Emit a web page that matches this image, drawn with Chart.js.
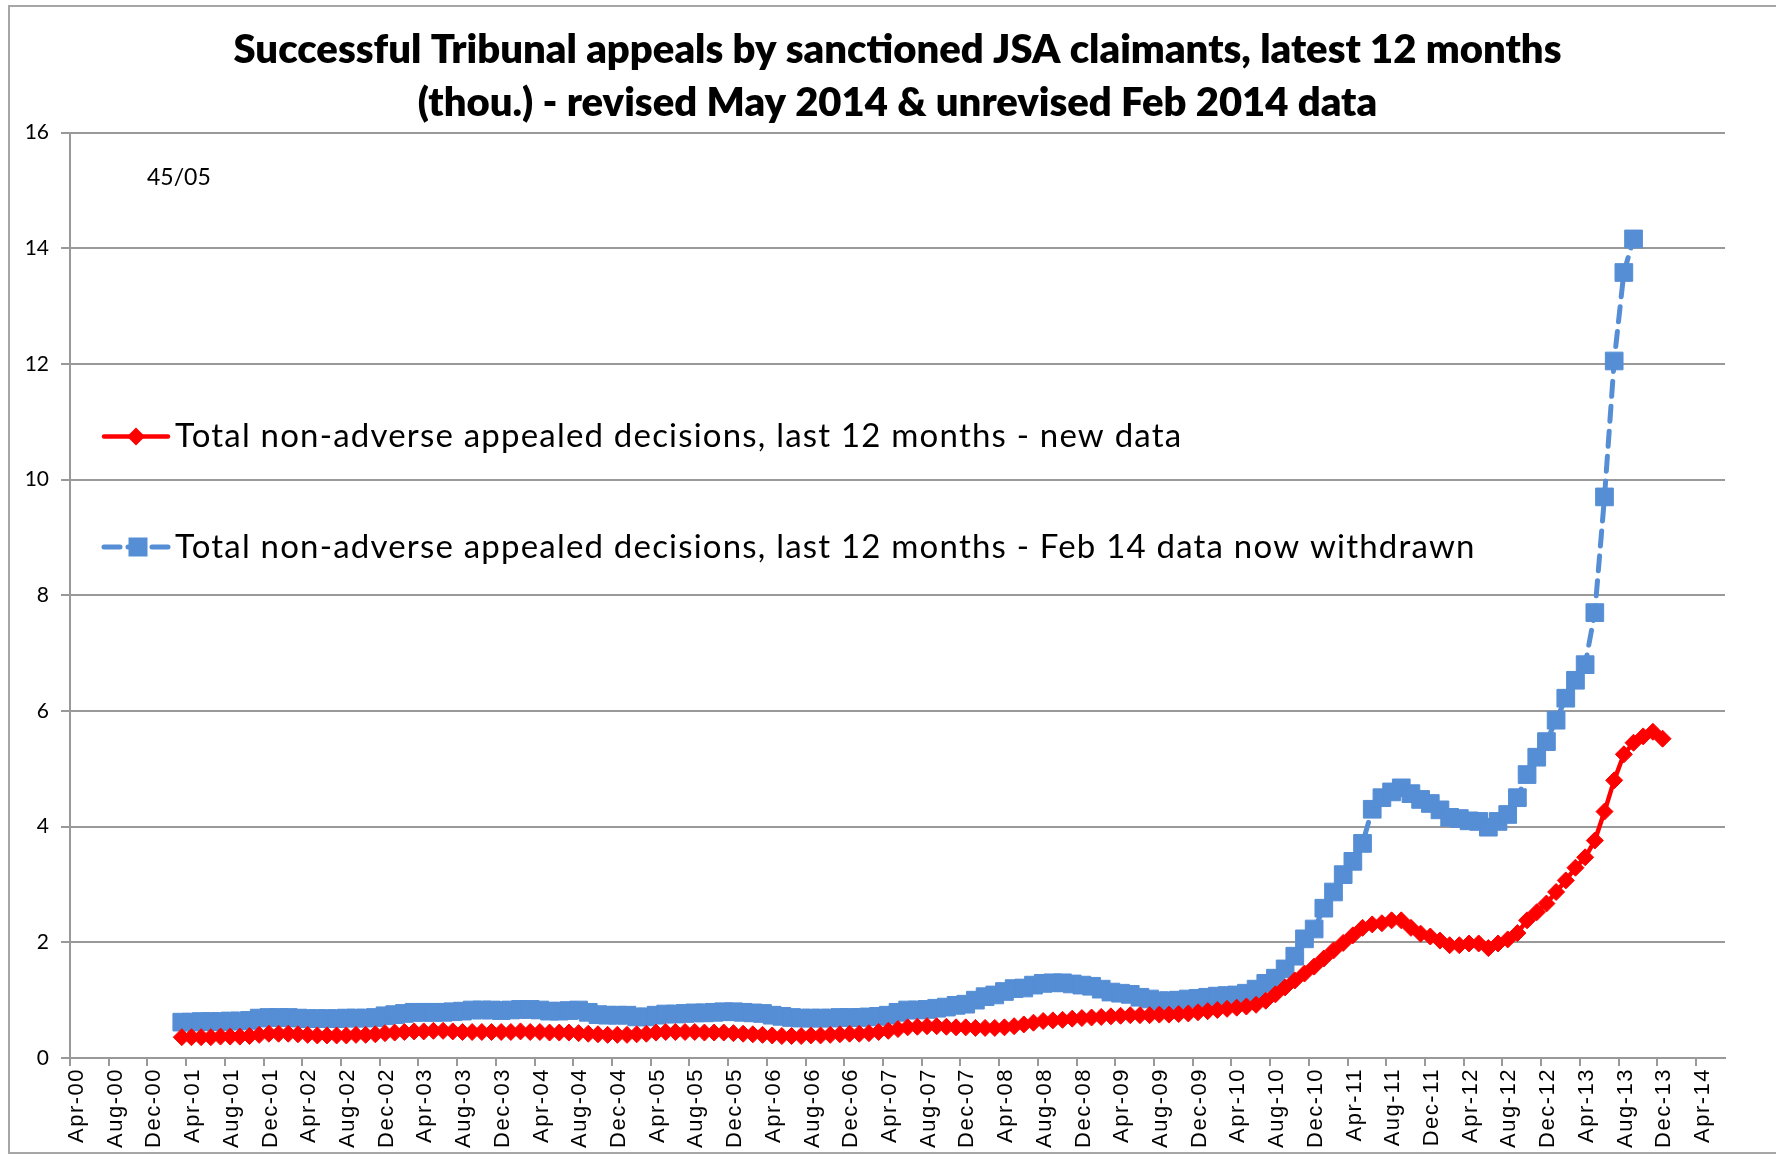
<!DOCTYPE html>
<html><head><meta charset="utf-8">
<script src="https://cdn.jsdelivr.net/npm/chart.js@4.4.1/dist/chart.umd.min.js"></script>
<style>
html,body{margin:0;padding:0;background:#fff;}
#wrap{position:relative;width:1776px;height:1157px;overflow:hidden;}
#frame{position:absolute;left:8px;top:5px;width:1800px;height:1149px;border:2px solid #a6a6a6;box-sizing:border-box;pointer-events:none;}
canvas{position:absolute;left:0;top:0;}
</style></head>
<body><div id="wrap"><canvas id="c" width="1776" height="1157" style="width:1776px;height:1157px"></canvas><div id="frame"></div></div>
<script>
const titleLines = ['Successful Tribunal appeals by sanctioned JSA claimants, latest 12 months',
                    '(thou.) - revised May 2014 & unrevised Feb 2014 data'];
const note = '45/05';
const seriesNames = ['Total non-adverse appealed decisions, last 12 months - new data',
                     'Total non-adverse appealed decisions, last 12 months - Feb 14 data now withdrawn'];

const months = [
 'Mar-01','Apr-01','May-01','Jun-01','Jul-01','Aug-01','Sep-01','Oct-01','Nov-01','Dec-01',
 'Jan-02','Feb-02','Mar-02','Apr-02','May-02','Jun-02','Jul-02','Aug-02','Sep-02','Oct-02','Nov-02','Dec-02',
 'Jan-03','Feb-03','Mar-03','Apr-03','May-03','Jun-03','Jul-03','Aug-03','Sep-03','Oct-03','Nov-03','Dec-03',
 'Jan-04','Feb-04','Mar-04','Apr-04','May-04','Jun-04','Jul-04','Aug-04','Sep-04','Oct-04','Nov-04','Dec-04',
 'Jan-05','Feb-05','Mar-05','Apr-05','May-05','Jun-05','Jul-05','Aug-05','Sep-05','Oct-05','Nov-05','Dec-05',
 'Jan-06','Feb-06','Mar-06','Apr-06','May-06','Jun-06','Jul-06','Aug-06','Sep-06','Oct-06','Nov-06','Dec-06',
 'Jan-07','Feb-07','Mar-07','Apr-07','May-07','Jun-07','Jul-07','Aug-07','Sep-07','Oct-07','Nov-07','Dec-07',
 'Jan-08','Feb-08','Mar-08','Apr-08','May-08','Jun-08','Jul-08','Aug-08','Sep-08','Oct-08','Nov-08','Dec-08',
 'Jan-09','Feb-09','Mar-09','Apr-09','May-09','Jun-09','Jul-09','Aug-09','Sep-09','Oct-09','Nov-09','Dec-09',
 'Jan-10','Feb-10','Mar-10','Apr-10','May-10','Jun-10','Jul-10','Aug-10','Sep-10','Oct-10','Nov-10','Dec-10',
 'Jan-11','Feb-11','Mar-11','Apr-11','May-11','Jun-11','Jul-11','Aug-11','Sep-11','Oct-11','Nov-11','Dec-11',
 'Jan-12','Feb-12','Mar-12','Apr-12','May-12','Jun-12','Jul-12','Aug-12','Sep-12','Oct-12','Nov-12','Dec-12',
 'Jan-13','Feb-13','Mar-13','Apr-13','May-13','Jun-13','Jul-13','Aug-13','Sep-13','Oct-13','Nov-13','Dec-13'
];

// new data (red), Mar-01 .. Dec-13
const newData = [
 0.36,0.36,0.36,0.36,0.37,0.37,0.37,0.38,0.40,0.42,
 0.42,0.42,0.41,0.40,0.39,0.39,0.39,0.39,0.40,0.40,0.41,0.43,
 0.44,0.45,0.46,0.46,0.47,0.47,0.46,0.45,0.45,0.45,0.45,0.45,
 0.45,0.46,0.45,0.45,0.44,0.44,0.44,0.43,0.42,0.41,0.40,0.40,
 0.40,0.41,0.42,0.44,0.45,0.45,0.45,0.45,0.44,0.44,0.44,0.43,
 0.42,0.41,0.40,0.39,0.38,0.38,0.38,0.39,0.39,0.40,0.41,0.42,
 0.42,0.43,0.45,0.47,0.50,0.53,0.54,0.55,0.55,0.54,0.53,0.53,
 0.52,0.52,0.52,0.53,0.55,0.58,0.61,0.64,0.65,0.66,0.68,0.69,
 0.70,0.71,0.72,0.73,0.74,0.74,0.74,0.75,0.75,0.76,0.77,0.79,
 0.81,0.83,0.85,0.87,0.89,0.92,0.99,1.10,1.22,1.34,1.46,1.58,
 1.72,1.86,1.99,2.12,2.25,2.31,2.33,2.38,2.38,2.25,2.15,2.10,
 2.03,1.95,1.95,1.98,1.98,1.90,1.98,2.05,2.16,2.38,2.52,2.67,
 2.87,3.07,3.29,3.47,3.76,4.26,4.80,5.25,5.45,5.56,5.64,5.52
];

// Feb 14 data now withdrawn (blue), Mar-01 .. Sep-13
const feb14Data = [
 0.62,0.62,0.63,0.63,0.63,0.64,0.64,0.65,0.69,0.70,
 0.70,0.70,0.69,0.68,0.68,0.68,0.68,0.69,0.69,0.69,0.70,0.73,
 0.75,0.77,0.79,0.79,0.79,0.79,0.80,0.81,0.83,0.83,0.83,0.82,
 0.83,0.84,0.84,0.83,0.81,0.81,0.82,0.83,0.79,0.75,0.74,0.74,
 0.74,0.71,0.71,0.74,0.76,0.76,0.77,0.78,0.78,0.79,0.80,0.80,
 0.79,0.78,0.77,0.74,0.72,0.70,0.69,0.69,0.69,0.69,0.70,0.70,
 0.70,0.71,0.72,0.74,0.79,0.83,0.83,0.84,0.86,0.88,0.91,0.93,
 1.00,1.06,1.09,1.15,1.20,1.21,1.26,1.29,1.30,1.30,1.28,1.26,
 1.24,1.19,1.14,1.12,1.10,1.05,1.02,0.99,0.99,1.00,1.02,1.03,
 1.05,1.07,1.08,1.09,1.12,1.19,1.29,1.38,1.54,1.76,2.06,2.23,
 2.59,2.87,3.17,3.40,3.71,4.30,4.50,4.60,4.67,4.57,4.47,4.40,
 4.29,4.16,4.14,4.10,4.09,3.99,4.09,4.21,4.50,4.90,5.20,5.47,
 5.84,6.22,6.53,6.80,7.70,9.70,12.05,13.58,14.16
];

const tickLabels = [
 'Apr-00','Aug-00','Dec-00','Apr-01','Aug-01','Dec-01','Apr-02','Aug-02','Dec-02',
 'Apr-03','Aug-03','Dec-03','Apr-04','Aug-04','Dec-04','Apr-05','Aug-05','Dec-05',
 'Apr-06','Aug-06','Dec-06','Apr-07','Aug-07','Dec-07','Apr-08','Aug-08','Dec-08',
 'Apr-09','Aug-09','Dec-09','Apr-10','Aug-10','Dec-10','Apr-11','Aug-11','Dec-11',
 'Apr-12','Aug-12','Dec-12','Apr-13','Aug-13','Dec-13','Apr-14'
];

const MON = ['Jan','Feb','Mar','Apr','May','Jun','Jul','Aug','Sep','Oct','Nov','Dec'];
function monthIndex(lbl){ const [m,y]=lbl.split('-'); return (+y)*12 + MON.indexOf(m) - 3; }
const MID_MONTH = 0.55;
const toPoints = vals => vals.map((v,i)=>({x: monthIndex(months[i]) + MID_MONTH, y: v}));

const excelLegend = {
  id: 'excelLegend',
  afterDatasetsDraw(chart, args, o) {
    const ctx = chart.ctx;
    ctx.save();
    chart.data.datasets.forEach((ds, i) => {
      const y = o.top + i * o.spacing;
      const x0 = o.left, x1 = o.left + o.lineLength;
      ctx.strokeStyle = ds.borderColor;
      ctx.lineWidth = ds.borderWidth;
      ctx.lineCap = 'round';
      ctx.setLineDash(ds.legendDash || []);
      ctx.beginPath(); ctx.moveTo(x0, y); ctx.lineTo(x1, y); ctx.stroke();
      ctx.setLineDash([]);
      ctx.fillStyle = ds.pointBackgroundColor;
      const xc = o.left + (ds.legendMarkerX || o.lineLength/2);
      const r = ds.legendRadius;
      ctx.beginPath();
      if (ds.pointStyle === 'rectRot') {
        ctx.moveTo(xc - r, y); ctx.lineTo(xc, y - r); ctx.lineTo(xc + r, y); ctx.lineTo(xc, y + r); ctx.closePath();
      } else {
        ctx.rect(xc - r, y - r, 2*r, 2*r);
      }
      ctx.fill();
      ctx.fillStyle = '#000';
      ctx.font = o.font;
      ctx.letterSpacing = o.letterSpacing;
      ctx.textBaseline = 'middle';
      ctx.textAlign = 'left';
      ctx.fillText(ds.label, o.textX, y);
      ctx.letterSpacing = '0px';
    });
    ctx.font = o.noteFont;
    ctx.fillStyle = '#000';
    ctx.textBaseline = 'middle';
    ctx.fillText(note, o.noteX, o.noteY);
    ctx.restore();
  }
};

function spacedLabels(s, spacing) {
  if (s._spaced) return;
  const orig = s.drawLabels;
  s.drawLabels = function(area) {
    const c = this.ctx; c.save(); c.letterSpacing = spacing; orig.call(this, area); c.restore();
  };
  s._spaced = true;
}

new Chart(document.getElementById('c'), {
  type: 'line',
  data: {
    datasets: [
      {
        label: seriesNames[0],
        data: toPoints(newData),
        borderColor: '#FF0000', backgroundColor: '#FF0000',
        borderWidth: 4.5,
        pointStyle: 'rectRot', pointRadius: 8.5,
        pointBackgroundColor: '#FF0000', pointBorderColor: '#FF0000', pointBorderWidth: 1,
        tension: 0, legendRadius: 9, legendMarkerX: 32
      },
      {
        label: seriesNames[1],
        data: toPoints(feb14Data),
        borderColor: '#558ED5', backgroundColor: '#558ED5',
        borderWidth: 5, borderDash: [15, 10], borderCapStyle: 'round',
        pointStyle: 'rect', pointRadius: 12.5,
        pointBackgroundColor: '#558ED5', pointBorderColor: '#558ED5', pointBorderWidth: 1,
        tension: 0, legendRadius: 9.5, legendDash: [16, 8], legendMarkerX: 34
      }
    ]
  },
  options: {
    responsive: false,
    animation: false,
    devicePixelRatio: 1,
    events: [],
    layout: { padding: { left: 0, right: 51, top: 0, bottom: 0 } },
    plugins: {
      legend: { display: false },
      tooltip: { enabled: false },
      title: {
        display: true,
        fullSize: false,
        text: titleLines,
        color: '#000',
        font: { family: 'Lato', weight: 800, size: 40, lineHeight: 1.325 },
        padding: { top: 23.5, bottom: 3 }
      },
      excelLegend: {
        left: 104, lineLength: 64, top: 436.5, spacing: 110.5, textX: 175,
        font: '33px Lato', letterSpacing: '1.2px', noteFont: '23px Lato', noteX: 147, noteY: 178
      }
    },
    scales: {
      x: {
        type: 'linear', min: 0, max: 171,
        afterFit: s => { s.height = 99; spacedLabels(s, '1.5px'); },
        afterBuildTicks: s => { s.ticks = tickLabels.map(l => ({ value: monthIndex(l) })); },
        ticks: {
          autoSkip: false, maxRotation: 90, minRotation: 90,
          callback: (v, i) => tickLabels[i],
          font: { family: 'Liberation Sans', size: 22 }, color: '#000', padding: 2, labelOffset: 7
        },
        grid: { drawOnChartArea: false, drawTicks: true, tickLength: 8, color: '#999', lineWidth: 2 },
        border: { display: true, color: '#999', width: 2 }
      },
      y: {
        min: 0, max: 16,
        afterFit: s => { s.width = 70; },
        ticks: { stepSize: 2, font: { family: 'Lato', size: 21 }, color: '#000', padding: 12 },
        grid: { color: '#999', lineWidth: 2, tickLength: 9 },
        border: { display: true, color: '#999', width: 2 }
      }
    }
  },
  plugins: [excelLegend]
});
</script>
</body></html>
